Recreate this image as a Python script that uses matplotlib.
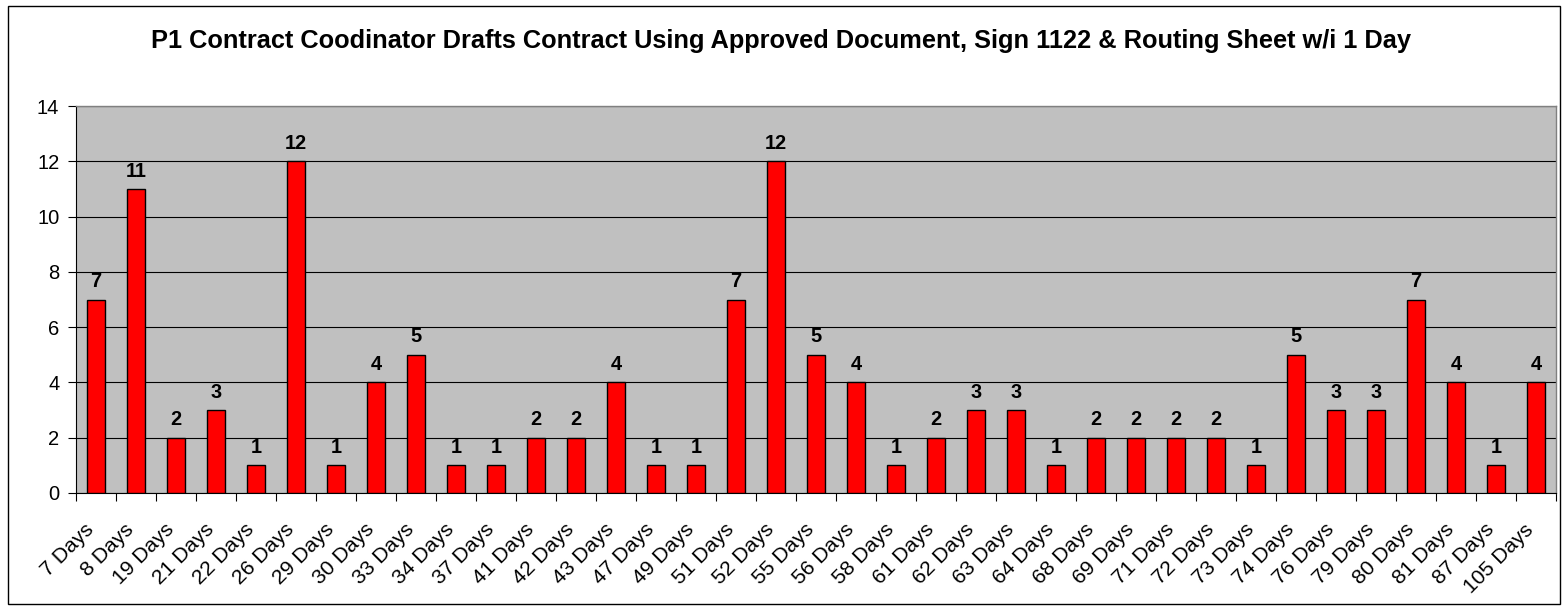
import matplotlib
matplotlib.use("Agg")
import matplotlib.pyplot as plt
from matplotlib.patches import Rectangle
import numpy as np

plt.rcParams['font.family'] = ['Liberation Sans', 'DejaVu Sans']

categories = ["7 Days", "8 Days", "19 Days", "21 Days", "22 Days", "26 Days", "29 Days",
              "30 Days", "33 Days", "34 Days", "37 Days", "41 Days", "42 Days", "43 Days",
              "47 Days", "49 Days", "51 Days", "52 Days", "55 Days", "56 Days", "58 Days",
              "61 Days", "62 Days", "63 Days", "64 Days", "68 Days", "69 Days", "71 Days",
              "72 Days", "73 Days", "74 Days", "76 Days", "79 Days", "80 Days", "81 Days",
              "87 Days", "105 Days"]
values = [7, 11, 2, 3, 1, 12, 1, 4, 5, 1, 1, 2, 2, 4, 1, 1, 7, 12, 5, 4, 1,
          2, 3, 3, 1, 2, 2, 2, 2, 1, 5, 3, 3, 7, 4, 1, 4]
title = "P1 Contract Coodinator Drafts Contract Using Approved Document, Sign 1122 & Routing Sheet w/i 1 Day"
yticks = [0, 2, 4, 6, 8, 10, 12, 14]

W, H = 1563, 606
fig = plt.figure(figsize=(W / 100, H / 100), dpi=100)
fig.patch.set_facecolor("white")

# outer border
fig.add_artist(Rectangle((8 / W, 1 - 604 / H), (1560 - 8) / W, (604 - 6) / H,
                         transform=fig.transFigure, fill=False, edgecolor="black", linewidth=1))

ax = fig.add_axes([76 / W, 1 - 493 / H, (1556 - 76) / W, (493 - 106) / H])
ax.set_facecolor("#C0C0C0")

x = np.arange(len(categories))
ax.bar(x, values, width=0.43, color="#FF0000", edgecolor="black", linewidth=1, zorder=3)
for xi, v in zip(x, values):
    ax.text(xi, v + 0.3, str(v), ha="center", va="bottom", fontsize=14.4, fontweight="bold", zorder=4)

ax.set_xlim(-0.5, len(categories) - 0.5)
ax.set_ylim(0, 14)
ax.set_yticks(yticks)
ax.set_yticklabels([str(t) for t in yticks], fontsize=14.5)
ax.yaxis.grid(True, color="black", linewidth=0.8, zorder=1)
ax.set_axisbelow(True)

# major ticks at category boundaries; rotated labels end slightly left of bar centre
ax.set_xticks(np.arange(-0.5, len(categories), 1.0), minor=False)
ax.set_xticklabels([])
ax.set_xticks(x - 0.3, minor=True)
ax.set_xticklabels(categories, minor=True, rotation=45, ha="right", rotation_mode="anchor", fontsize=15.2)
ax.tick_params(axis="x", which="minor", length=0, pad=19.5)
ax.tick_params(axis="x", which="major", length=6, direction="out", color="black")
ax.tick_params(axis="y", length=6, direction="out", pad=6)

for side in ["top", "right"]:
    ax.spines[side].set_color("#808080")
    ax.spines[side].set_linewidth(1)
ax.spines["left"].set_color("black")
ax.spines["bottom"].set_color("black")

fig.text((148 + 1414) / 2 / W, 1 - 41 / H, title, ha="center", va="center",
         fontsize=18.3, fontweight="bold")

fig.savefig("out.png", dpi=100)
